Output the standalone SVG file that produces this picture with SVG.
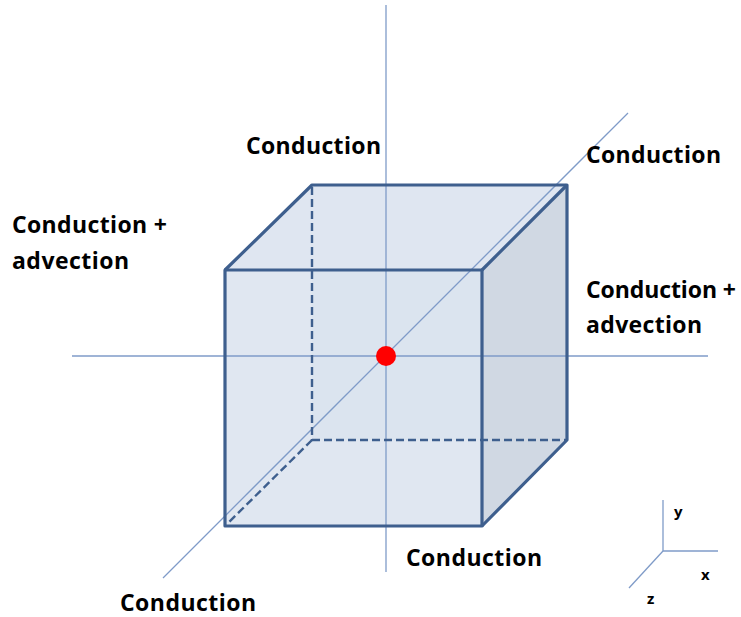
<svg xmlns="http://www.w3.org/2000/svg" width="741" height="617" viewBox="0 0 741 617">
<style>
.axis{stroke:#7f9bc8;stroke-width:1.3;fill:none}
.edge{stroke:#3e5f8e;stroke-width:3.2;fill:none;stroke-linejoin:round}
.dash{stroke:#3e5f8e;stroke-width:2.4;fill:none;stroke-dasharray:8 4}
.lbl{font-family:"Open Sans","Liberation Sans",sans-serif;font-weight:700;font-size:23px;fill:#000}
.sm{font-family:"Open Sans","Liberation Sans",sans-serif;font-weight:700;font-size:15px;fill:#000}
</style>
<rect width="741" height="617" fill="#fff"/>
<g id="cube">
<polygon points="312,185 567,185 567,440 312,440" fill="#dfe6f1"/>
<polygon points="225,270 312,185 567,185 482,270" fill="#dfe6f1"/>
<polygon points="482,270 567,185 567,440 482,526" fill="#d0d8e3"/>
<rect x="225" y="270" width="257" height="256" fill="#dbe3ef" fill-opacity="0.85"/>
</g>
<g id="connectors">
<line class="axis" x1="386" y1="5" x2="386" y2="572"/>
<line class="axis" x1="72" y1="356" x2="708" y2="356"/>
<line class="axis" x1="163" y1="578" x2="628" y2="113"/>
<line class="axis" x1="663" y1="500" x2="663" y2="551"/>
<line class="axis" x1="663" y1="551" x2="718" y2="551"/>
<line class="axis" x1="663" y1="551" x2="629" y2="588"/>
</g>
<g id="cube-edges">
<line class="dash" x1="312" y1="187" x2="312" y2="440"/>
<line class="dash" x1="312" y1="440" x2="567" y2="440"/>
<line class="dash" x1="312" y1="440" x2="227" y2="524"/>
<polyline class="edge" points="225,270 312,185 567,185 567,440 482,526"/>
<line class="edge" x1="482" y1="270" x2="567" y2="185"/>
<rect class="edge" x="225" y="270" width="257" height="256"/>
</g>
<g id="center">
<circle cx="386" cy="356" r="10" fill="#ff0000"/>
</g>
<g id="labels">
<text class="lbl" x="246" y="154" textLength="135">Conduction</text>
<text class="lbl" x="586" y="163" textLength="135">Conduction</text>
<text class="lbl" x="12" y="233" textLength="155">Conduction +</text>
<text class="lbl" x="12" y="269" textLength="117">advection</text>
<text class="lbl" x="586" y="298" textLength="150">Conduction +</text>
<text class="lbl" x="586" y="333" textLength="116">advection</text>
<text class="lbl" x="406" y="566" textLength="136">Conduction</text>
<text class="lbl" x="120" y="611" textLength="136">Conduction</text>
<text class="sm" x="674" y="517">y</text>
<text class="sm" x="701" y="580">x</text>
<text class="sm" x="647" y="604">z</text>
</g>
</svg>
